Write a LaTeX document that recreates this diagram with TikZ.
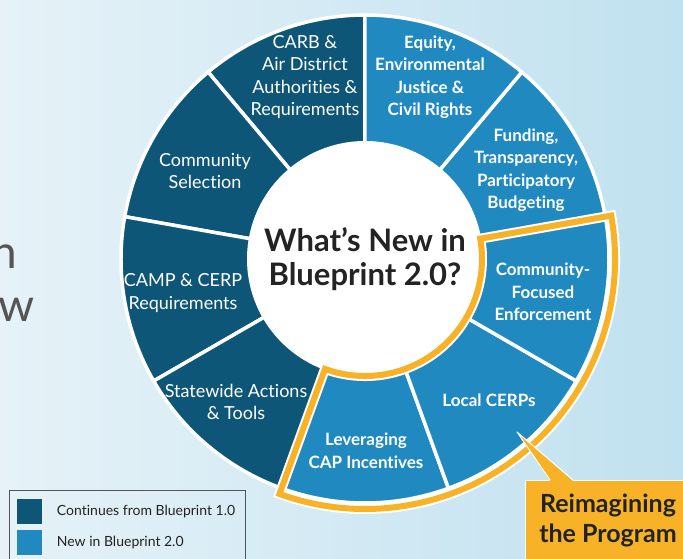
\documentclass[tikz,border=0pt]{standalone}
\usepackage{fontspec}
\setmainfont{Lato}[Ligatures={TeX,NoCommon}]
\usetikzlibrary{positioning, calc}
\definecolor{darkseg}{RGB}{14,86,120}
\definecolor{lightseg}{RGB}{32,138,192}
\definecolor{accent}{RGB}{247,178,39}
\definecolor{bgleft}{RGB}{230,242,248}
\definecolor{bgright}{RGB}{192,225,239}
\definecolor{inktext}{RGB}{35,35,35}
\definecolor{slidegray}{RGB}{85,85,85}

\begin{document}
\begin{tikzpicture}[x=1pt, y=1pt,
    oldseg/.style={fill=darkseg, draw=white, line width=3.5pt, line join=round},
    newseg/.style={fill=lightseg, draw=white, line width=3.5pt, line join=round},
    oldlabel/.style={text=white, align=center, font=\fontsize{18}{22.5}\selectfont},
    newlabel/.style={text=white, align=center, font=\bfseries\fontsize{17}{22.5}\selectfont},
    swatch/.style={minimum width=25pt, minimum height=25pt, inner sep=0pt},
    legendtext/.style={text=inktext, anchor=west, font=\fontsize{14}{16}\selectfont}]
        % Fondo
        \useasboundingbox (-365,-300) rectangle (318,259);
        \clip (-365,-300) rectangle (318,259);
        \shade[left color=bgleft, right color=bgright] (-365,-300) rectangle (318,259);
        \node[text=slidegray, anchor=base east, inner sep=0pt, font=\fontsize{46}{50}\selectfont] (slideN) at (-348,-10) {n};
        \node[text=slidegray, anchor=base east, inner sep=0pt, font=\fontsize{46}{50}\selectfont] (slideW) at (-330,-63) {w};

        % Anillo de segmentos
        \filldraw[oldseg] (0,0) -- (90:244) arc[start angle=90, end angle=130, radius=244] -- cycle;
        \filldraw[oldseg] (0,0) -- (130:244) arc[start angle=130, end angle=170, radius=244] -- cycle;
        \filldraw[oldseg] (0,0) -- (170:244) arc[start angle=170, end angle=210, radius=244] -- cycle;
        \filldraw[oldseg] (0,0) -- (210:244) arc[start angle=210, end angle=250, radius=244] -- cycle;
        \filldraw[newseg] (0,0) -- (250:244) arc[start angle=250, end angle=290, radius=244] -- cycle;
        \filldraw[newseg] (0,0) -- (290:244) arc[start angle=290, end angle=330, radius=244] -- cycle;
        \filldraw[newseg] (0,0) -- (330:244) arc[start angle=330, end angle=370, radius=244] -- cycle;
        \filldraw[newseg] (0,0) -- (10:244) arc[start angle=10, end angle=50, radius=244] -- cycle;
        \filldraw[newseg] (0,0) -- (50:244) arc[start angle=50, end angle=90, radius=244] -- cycle;

        % Centro
        \node[circle, fill=white, minimum size=236pt, inner sep=0pt, align=center, text=inktext,
              font=\bfseries\fontsize{31}{34}\selectfont] (hub) at (0,0)
            {What's New in\\Blueprint 2.0?};

        % Marco naranja
        \draw[white, line width=10pt, line join=miter] (10:117) -- (10:250)
            arc[start angle=10, end angle=-110, radius=250] -- (-110:117)
            arc[start angle=-110, end angle=10, radius=117] -- cycle;
        \draw[accent, line width=6pt, line join=miter] (10:117) -- (10:250)
            arc[start angle=10, end angle=-110, radius=250] -- (-110:117)
            arc[start angle=-110, end angle=10, radius=117] -- cycle;

        % Textos de los segmentos
        \node[oldlabel] (carb) at (-60,182) {CARB \&\\Air District\\Authorities \&\\Requirements};
        \node[newlabel] (equity) at (65,182) {Equity,\\Environmental\\Justice \&\\Civil Rights};
        \node[newlabel] (funding) at (161,89) {Funding,\\Transparency,\\Participatory\\Budgeting};
        \node[newlabel] (enforcement) at (178,-33) {Community-\\Focused\\Enforcement};
        \node[newlabel] (cerps) at (124,-141) {Local CERPs};
        \node[newlabel] (incentives) at (1,-192) {Leveraging\\CAP Incentives};
        \node[oldlabel] (statewide) at (-129,-143) {Statewide Actions\\\& Tools};
        \node[oldlabel] (camp) at (-182,-34) {CAMP \& CERP\\Requirements};
        \node[oldlabel] (selection) at (-160,88) {Community\\Selection};

        % Llamada
        \node[draw=white, line width=1pt, fill=accent, minimum width=170pt, minimum height=90pt,
              anchor=north west, inner sep=0pt] (reimagine) at (160,-221) {};
        \coordinate (pointerTip) at (152,-173);
        \fill[accent] (pointerTip) -- ($(reimagine.north west)+(25,-1)$) -- ($(reimagine.north west)+(48,-1)$) -- cycle;
        \draw[white, line width=1pt, line join=round] ($(reimagine.north west)+(25,0)$) -- (pointerTip)
            -- ($(reimagine.north west)+(48,0)$);
        \node[text=inktext, align=center, font=\bfseries\fontsize{25}{30}\selectfont] (reimagineText)
            at (243,-261) {Reimagining\\the Program};

        % Leyenda
        \node[draw=slidegray, line width=0.8pt, minimum width=236pt, minimum height=80pt,
              anchor=north west, inner sep=0pt] (legend) at (-356,-231) {};
        \node[swatch, fill=darkseg, anchor=north west] (oldkey) at (-348,-240) {};
        \node[swatch, fill=lightseg, below=5pt of oldkey] (newkey) {};
        \node[legendtext, right=11pt of oldkey] (oldkeytext) {Continues from Blueprint 1.0};
        \node[legendtext, right=11pt of newkey] (newkeytext) {New in Blueprint 2.0};
    \end{tikzpicture}
\end{document}
